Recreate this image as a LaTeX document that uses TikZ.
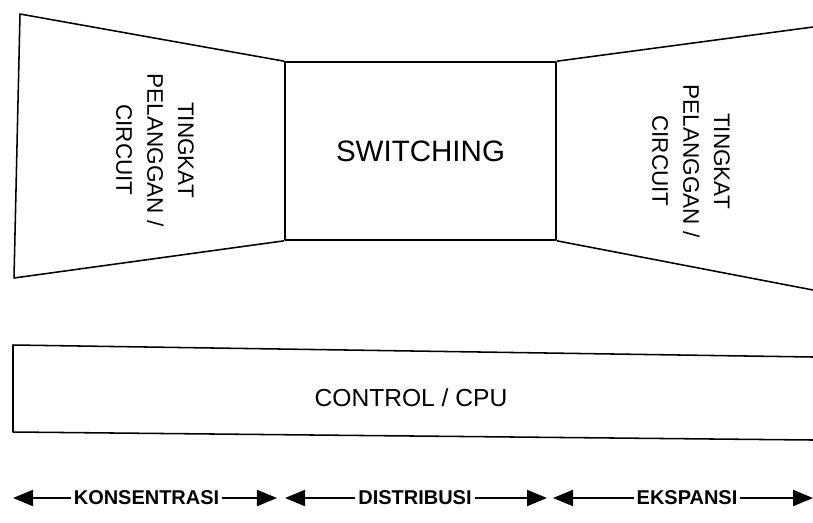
\documentclass[tikz,border=0pt]{standalone}
\usepackage{fontspec}
\setmainfont{Liberation Sans}
\usepackage{tikz}
\usetikzlibrary{positioning, arrows.meta}

\tikzset{
    box/.style={draw, line width=1.1pt, inner sep=0pt},
    sidetext/.style={rotate=-90, align=center, font=\fontsize{16}{22}\selectfont},
    phase/.style={font=\bfseries\fontsize{14.2}{16}\selectfont, inner sep=2pt},
    span/.style={line width=1.4pt, -{Triangle[length=0.5cm, width=0.4cm]}}
}

\begin{document}
\begin{tikzpicture}[x=0.025cm, y=-0.025cm, line join=round]
    \useasboundingbox (0,0) rectangle (813,522);

    % Switching block in the middle
    \node[box, minimum width=6.775cm, minimum height=4.45cm,
          font=\fontsize{21}{24}\selectfont] (sw) at (420.5,151) {SWITCHING};

    % Left funnel (customer side)
    \draw[line width=1.1pt] (sw.north west) -- (20,14) -- (14,278) -- (sw.south west);
    \node[sidetext] (custL) at (155,150) {TINGKAT\\PELANGGAN /\\CIRCUIT};

    % Right funnel (runs off the page)
    \draw[line width=1.1pt] (813,27) -- (sw.north east);
    \draw[line width=1.1pt] (sw.south east) -- (813,290);
    \node[sidetext] (custR) at (691,161) {TINGKAT\\PELANGGAN /\\CIRCUIT};

    % Control strip
    \draw[line width=1.1pt] (813,357) -- (13,345) -- (13,432) -- (813,440);
    \node[font=\fontsize{17.5}{20}\selectfont] (ctrl) at (411,398) {CONTROL / CPU};

    % Bottom ranges
    \node[phase] (kons) at (146.5,498) {KONSENTRASI};
    \node[phase] (dist) at (415,498) {DISTRIBUSI};
    \node[phase] (eksp) at (687,498) {EKSPANSI};

    \coordinate (kL) at (13,498);
    \coordinate (kR) at (277,498);
    \coordinate (dL) at (285,498);
    \coordinate (dR) at (547,498);
    \coordinate (eL) at (553,498);
    \coordinate (eR) at (813,498);

    \draw[span] (kons.west) -- (kL);
    \draw[span] (kons.east) -- (kR);
    \draw[span] (dist.west) -- (dL);
    \draw[span] (dist.east) -- (dR);
    \draw[span] (eksp.west) -- (eL);
    \draw[span] (eksp.east) -- (eR);

\end{tikzpicture}
\end{document}
